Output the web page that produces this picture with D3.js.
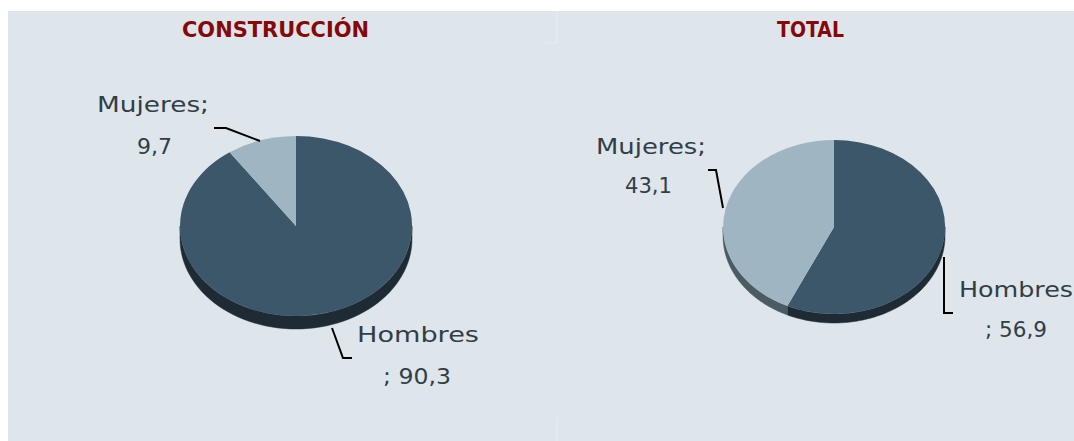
<!DOCTYPE html>
<html>
<head>
<meta charset="utf-8">
<script src="https://cdn.jsdelivr.net/npm/d3@7"></script>
<style>
  html, body { margin: 0; padding: 0; background: #ffffff; }
  svg { display: block; }
</style>
</head>
<body>
<svg id="chart" width="1074" height="441"></svg>
<script>
// ---- data ----
const categories = ["Hombres", "Mujeres"];
const titles = ["CONSTRUCCIÓN", "TOTAL"];
const construccionValues = [90.3, 9.7];
const totalValues = [56.9, 43.1];

// ---- layout (styles / positions) ----
const colors = { Hombres: "#3c566a", Mujeres: "#9fb6c2" };
const sideColors = { Hombres: "#1e2b34", Mujeres: "#4b5b63" };
const labelColor = "#323e46";
const titleColor = "#860808";

const panels = [
  {
    title: titles[0], values: construccionValues,
    titleX: 182, titleLen: 187,
    cx: 296, cy: 226, rx: 116, ry: 90, depth: 13,
    labels: {
      Mujeres: { l1: [97, 112, 112], l2: [137, 154, 35],
                 leader: [[214, 128], [226, 128], [260, 141]] },
      Hombres: { l1: [357, 342, 122], l2: [383, 384, 68],
                 leader: [[332, 328], [343, 358], [352, 358]] }
    }
  },
  {
    title: titles[1], values: totalValues,
    titleX: 777, titleLen: 67,
    cx: 834, cy: 227, rx: 111, ry: 87, depth: 9,
    labels: {
      Mujeres: { l1: [596, 154, 110], l2: [625, 193, 47],
                 leader: [[708, 170], [716, 170], [723, 208]] },
      Hombres: { l1: [959, 297, 114], l2: [985, 337, 62],
                 leader: [[944, 257], [944, 313], [953, 313]] }
    }
  }
];

const svg = d3.select("#chart");

// background panel
svg.append("rect").attr("x", 8).attr("y", 11).attr("width", 1066).attr("height", 430)
  .attr("fill", "#dee6ec");
// faint separators
svg.append("path").attr("d", "M557,11V43M544,43H557M557,417V441")
  .attr("stroke", "#e8eef2").attr("stroke-width", 1).attr("fill", "none");

const fmt = v => d3.format(".1f")(v).replace(".", ",");
const pie = d3.pie().sort(null).value(d => d.value);
const arc = d3.arc().innerRadius(0).outerRadius(1);

panels.forEach(p => {
  const data = categories.map((c, i) => ({ cat: c, value: p.values[i] }));
  const arcs = pie(data);
  const g = svg.append("g");

  // title
  g.append("text").attr("x", p.titleX).attr("y", 37)
    .attr("textLength", p.titleLen).attr("lengthAdjust", "spacingAndGlyphs")
    .attr("font-family", "'DejaVu Sans', sans-serif").attr("font-weight", "bold")
    .attr("font-size", 21).attr("fill", titleColor).text(p.title);

  const pt = (t, dy) => [p.cx + p.rx * Math.sin(t), p.cy - p.ry * Math.cos(t) + dy];

  // sides (visible front half: angles pi/2 .. 3pi/2)
  arcs.forEach(a => {
    const t0 = Math.max(a.startAngle, Math.PI / 2);
    const t1 = Math.min(a.endAngle, 3 * Math.PI / 2);
    if (t1 <= t0) return;
    const n = 60;
    const top = d3.range(n + 1).map(i => pt(t0 + (t1 - t0) * i / n, 0));
    const bot = d3.range(n + 1).map(i => pt(t1 - (t1 - t0) * i / n, p.depth));
    g.append("path").attr("d", d3.line()(top.concat(bot)) + "Z")
      .attr("fill", sideColors[a.data.cat]).attr("stroke", sideColors[a.data.cat]).attr("stroke-width", 0.5);
  });

  // top face
  const topG = g.append("g").attr("transform", `translate(${p.cx},${p.cy}) scale(${p.rx},${p.ry})`);
  topG.selectAll("path").data(arcs).join("path")
    .attr("d", arc).attr("fill", d => colors[d.data.cat]);

  // labels and leaders
  arcs.forEach(a => {
    const L = p.labels[a.data.cat];
    const lines = [a.data.cat === "Mujeres" ? "Mujeres;" : "Hombres",
                   a.data.cat === "Mujeres" ? fmt(a.data.value) : "; " + fmt(a.data.value)];
    [L.l1, L.l2].forEach((pos, i) => {
      g.append("text").attr("x", pos[0]).attr("y", pos[1])
        .attr("textLength", pos[2]).attr("lengthAdjust", "spacingAndGlyphs")
        .attr("font-family", "'DejaVu Sans', sans-serif").attr("font-size", 22)
        .attr("fill", labelColor).text(lines[i]);
    });
    g.append("path").attr("d", d3.line()(L.leader))
      .attr("fill", "none").attr("stroke", "#000").attr("stroke-width", 2);
  });
});
</script>
</body>
</html>
